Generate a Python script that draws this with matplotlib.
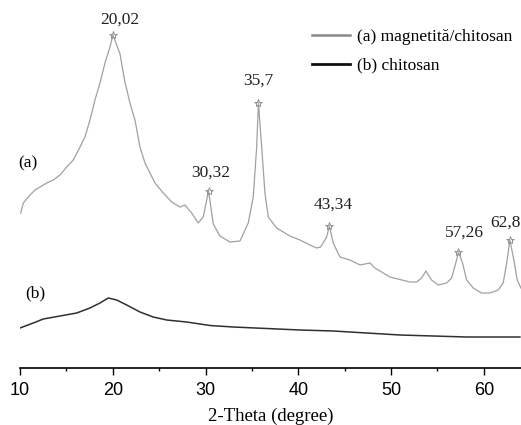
import numpy as np
import matplotlib
matplotlib.use("Agg")
import matplotlib.pyplot as plt
from matplotlib.lines import Line2D
from matplotlib.ticker import MultipleLocator

# ── Data ──────────────────────────────────────────────────────────────────────
# (a) magnetite/chitosan
theta_a = [10.08, 10.36, 11.08, 11.62, 12.16, 12.88, 13.59, 14.31, 15.03, 15.74,
           16.47, 17.00, 17.54, 18.08, 18.62, 19.16, 19.70, 20.02, 20.78, 21.31,
           21.85, 22.39, 22.93, 23.47, 24.01, 24.55, 25.44, 26.35, 27.24, 27.78,
           28.50, 29.21, 29.75, 30.32, 30.83, 31.55, 32.63, 33.71, 34.60, 35.14,
           35.51, 35.70, 36.05, 36.40, 36.76, 37.66, 39.09, 40.17, 41.25, 41.97,
           42.40, 43.05, 43.34, 43.76, 44.48, 45.56, 46.64, 47.72, 48.25, 49.87,
           52.03, 52.75, 53.29, 53.75, 54.36, 55.08, 55.98, 56.52, 57.06, 57.26,
           57.70, 58.14, 58.85, 59.75, 60.65, 61.54, 62.08, 62.51, 62.80, 63.23,
           63.59, 63.99]
int_a = [155, 165, 173, 178, 181, 185, 188, 193, 201, 208,
         221, 231, 248, 268, 285, 305, 321, 333, 314, 286,
         265, 248, 221, 205, 195, 185, 175, 166, 161, 163,
         155, 145, 151, 177, 144, 132, 126, 127, 145, 171,
         221, 265, 221, 175, 151, 140, 132, 128, 123, 120,
         121, 131, 142, 125, 111, 108, 103, 105, 100, 91,
         86, 86, 90, 97, 88, 83, 85, 90, 108, 116,
         105, 88, 80, 75, 75, 78, 85, 108, 128, 108,
         88, 80]

# (b) chitosan
theta_b = [10.00, 11.43, 12.51, 14.31, 16.11, 17.54, 18.62, 19.52, 20.42, 21.50,
           22.93, 24.36, 25.81, 27.96, 29.40, 30.47, 32.98, 36.58, 40.17, 43.76,
           47.36, 50.95, 54.54, 58.13, 61.72, 63.88]
int_b = [40, 45, 49, 52, 55, 60, 65, 70, 68, 63,
         56, 51, 48, 46, 44, 42.5, 41, 39.5, 38, 37,
         35, 33, 32, 31, 31, 31]

peak_pos = [20.02, 30.32, 35.70, 43.34, 57.26, 62.80]
peak_int = [333, 177, 265, 142, 116, 128]
peak_lbl = ["20,02", "30,32", "35,7", "43,34", "57,26", "62,8"]
lbl_x = [20.78, 30.58, 35.65, 43.73, 57.95, 63.98]
lbl_y = [348, 195, 287, 163, 135, 145]
lbl_ha = ["center", "center", "center", "center", "center", "right"]

# ── Plot ──────────────────────────────────────────────────────────────────────
fig = plt.figure(figsize=(5.21, 4.25), dpi=100)
ax = fig.add_axes([20 / 521, 57 / 425, 501 / 521, 368 / 425])

ax.plot(theta_a, int_a, color="#a0a0a0", lw=0.9)
ax.plot(theta_b, int_b, color="#303030", lw=1.1)
ax.plot(peak_pos, peak_int, ls="none", marker="*", ms=6, mfc="none",
        mec="#909090", mew=0.7)

serif = "Liberation Serif"
for x, y, s, ha in zip(lbl_x, lbl_y, peak_lbl, lbl_ha):
    ax.text(x, y, s, ha=ha, va="center", fontsize=12.5, family=serif, color="#222222")

ax.text(9.78, 205, "(a)", ha="left", va="center", fontsize=12.5, family=serif)
ax.text(10.54, 75, "(b)", ha="left", va="center", fontsize=12.5, family=serif)

handles = [Line2D([], [], color="#8a8a8a", lw=1.8),
           Line2D([], [], color="#111111", lw=2.0)]
ax.legend(handles, ["(a) magnetită/chitosan", "(b) chitosan"],
          loc="upper left", bbox_to_anchor=(292 / 501, 1 - 29 / 368),
          frameon=False, prop={"family": serif, "size": 12.5},
          handlelength=2.2, handletextpad=0.4, labelspacing=0.72,
          borderaxespad=0, borderpad=0)

ax.set_xlim(10, 64.0)
ax.set_ylim(0, 368)
ax.xaxis.set_major_locator(MultipleLocator(10))
ax.xaxis.set_minor_locator(MultipleLocator(5))
ax.tick_params(axis="x", which="major", direction="out", length=5, width=1,
               labelsize=13, pad=5)
ax.tick_params(axis="x", which="minor", direction="out", length=2.5, width=1)
for lab in ax.get_xticklabels():
    lab.set_family("Liberation Sans")
ax.set_yticks([])
for side in ("left", "right", "top"):
    ax.spines[side].set_visible(False)
ax.spines["bottom"].set_linewidth(1.2)

ax.set_xlabel("2-Theta (degree)", family=serif, fontsize=13.5, labelpad=6)

plt.savefig("out.png", dpi=100)
